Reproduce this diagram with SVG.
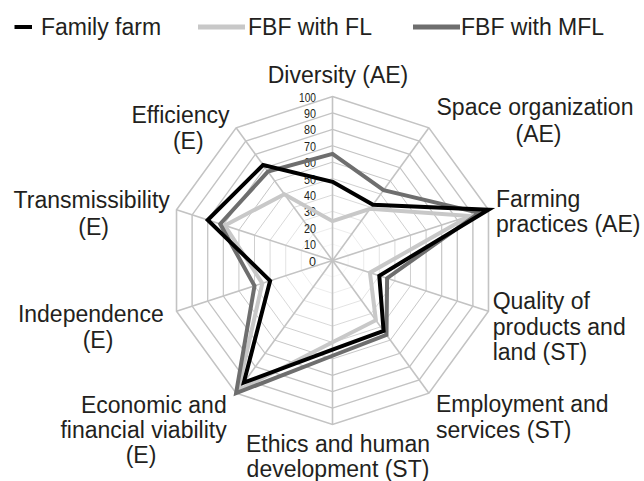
<svg xmlns="http://www.w3.org/2000/svg" xmlns:xlink="http://www.w3.org/1999/xlink" width="644" height="481" viewBox="0 0 644 481">
<style>
  text { font-family: "Liberation Sans", Arial, sans-serif; fill: #231f20; }
  .lab { font-size: 23px; }
  .tick { font-size: 13px; text-anchor: end; }
  .ring { fill: none; stroke: #c3c3c3; stroke-width: 1.6; vector-effect: non-scaling-stroke; }
  .spoke { stroke: #c3c3c3; stroke-width: 1.6; }
  .ser { fill: none; stroke-width: 4; stroke-linejoin: miter; }
  .fam { stroke: #000000; }
  .fl { stroke: #c8c8c8; }
  .mfl { stroke: #6e6e6e; }
</style>
<defs>
  <polygon id="dec" points="0,-164 96.4,-132.68 155.98,-50.68 155.98,50.68 96.4,132.68 0,164 -96.4,132.68 -155.98,50.68 -155.98,-50.68 -96.4,-132.68"/>
</defs>

<g id="legend">
  <line x1="14.5" y1="27" x2="32" y2="27" stroke="#000" stroke-width="4"/>
  <text class="lab" x="41" y="35">Family farm</text>
  <line x1="198" y1="27" x2="245" y2="27" stroke="#c8c8c8" stroke-width="5"/>
  <text class="lab" x="248" y="35">FBF with FL</text>
  <line x1="413" y1="27" x2="460" y2="27" stroke="#6e6e6e" stroke-width="5"/>
  <text class="lab" x="461" y="35">FBF with MFL</text>
</g>

<g id="grid" transform="translate(332.5,260.5)">
  <use xlink:href="#dec" class="ring" transform="scale(0.1)"/>
  <use xlink:href="#dec" class="ring" transform="scale(0.2)"/>
  <use xlink:href="#dec" class="ring" transform="scale(0.3)"/>
  <use xlink:href="#dec" class="ring" transform="scale(0.4)"/>
  <use xlink:href="#dec" class="ring" transform="scale(0.5)"/>
  <use xlink:href="#dec" class="ring" transform="scale(0.6)"/>
  <use xlink:href="#dec" class="ring" transform="scale(0.7)"/>
  <use xlink:href="#dec" class="ring" transform="scale(0.8)"/>
  <use xlink:href="#dec" class="ring" transform="scale(0.9)"/>
  <use xlink:href="#dec" class="ring"/>
  <line class="spoke" x1="0" y1="0" x2="0" y2="-164"/>
  <line class="spoke" x1="0" y1="0" x2="96.4" y2="-132.68"/>
  <line class="spoke" x1="0" y1="0" x2="155.98" y2="-50.68"/>
  <line class="spoke" x1="0" y1="0" x2="155.98" y2="50.68"/>
  <line class="spoke" x1="0" y1="0" x2="96.4" y2="132.68"/>
  <line class="spoke" x1="0" y1="0" x2="0" y2="164"/>
  <line class="spoke" x1="0" y1="0" x2="-96.4" y2="132.68"/>
  <line class="spoke" x1="0" y1="0" x2="-155.98" y2="50.68"/>
  <line class="spoke" x1="0" y1="0" x2="-155.98" y2="-50.68"/>
  <line class="spoke" x1="0" y1="0" x2="-96.4" y2="-132.68"/>
</g>

<g id="ticks">
  <text class="tick" x="316" y="265.5" textLength="7" lengthAdjust="spacingAndGlyphs">0</text>
  <text class="tick" x="316" y="249.1" textLength="12" lengthAdjust="spacingAndGlyphs">10</text>
  <text class="tick" x="316" y="232.7" textLength="12" lengthAdjust="spacingAndGlyphs">20</text>
  <text class="tick" x="316" y="216.3" textLength="12" lengthAdjust="spacingAndGlyphs">30</text>
  <text class="tick" x="316" y="199.9" textLength="12" lengthAdjust="spacingAndGlyphs">40</text>
  <text class="tick" x="316" y="183.5" textLength="12" lengthAdjust="spacingAndGlyphs">50</text>
  <text class="tick" x="316" y="167.1" textLength="12" lengthAdjust="spacingAndGlyphs">60</text>
  <text class="tick" x="316" y="150.7" textLength="12" lengthAdjust="spacingAndGlyphs">70</text>
  <text class="tick" x="316" y="134.3" textLength="12" lengthAdjust="spacingAndGlyphs">80</text>
  <text class="tick" x="316" y="117.9" textLength="12" lengthAdjust="spacingAndGlyphs">90</text>
  <text class="tick" x="316" y="101.5" textLength="17" lengthAdjust="spacingAndGlyphs">100</text>
</g>

<g id="series" transform="translate(332.5,260.5)">
  <polygon id="s-fl" class="ser fl" points="0,-39.36 37.6,-51.74 137.26,-44.59 37.44,12.16 43.38,59.7 0,81.83 -94.47,130.02 -70.19,22.8 -107.63,-34.97 -48.2,-66.34"/>
  <polygon id="s-mfl" class="ser mfl" points="0,-106.6 51.09,-70.32 146.6,-47.63 54.59,17.74 53.98,74.3 0,95.26 -96.4,132.68 -77.99,25.34 -112.31,-36.49 -64.59,-88.89"/>
  <polygon id="s-fam" class="ser fam" points="0,-78.72 40.49,-55.72 155.98,-50.68 46.79,15.2 51.09,70.32 0,89.23 -88.69,122.06 -62.39,20.27 -124.78,-40.54 -69.41,-95.53"/>
</g>

<g id="labels" class="lab">
  <g id="n-diversity"><text class="lab" x="338" y="83" text-anchor="middle">Diversity (AE)</text></g>
  <g id="n-space">
    <text class="lab" x="535" y="115" text-anchor="middle">Space organization</text>
    <text class="lab" x="538.5" y="141.7" text-anchor="middle">(AE)</text>
  </g>
  <g id="n-farming">
    <text class="lab" x="496" y="206.7">Farming</text>
    <text class="lab" x="496" y="231.7">practices (AE)</text>
  </g>
  <g id="n-quality">
    <text class="lab" x="492.7" y="309.3">Quality of</text>
    <text class="lab" x="492.7" y="335">products and</text>
    <text class="lab" x="492.7" y="360">land (ST)</text>
  </g>
  <g id="n-employment">
    <text class="lab" x="436" y="412">Employment and</text>
    <text class="lab" x="436" y="437.5">services (ST)</text>
  </g>
  <g id="n-ethics">
    <text class="lab" x="338" y="452.3" text-anchor="middle">Ethics and human</text>
    <text class="lab" x="338" y="477" text-anchor="middle">development (ST)</text>
  </g>
  <g id="n-economic">
    <text class="lab" x="226.7" y="413.3" text-anchor="end">Economic and</text>
    <text class="lab" x="226.7" y="438.3" text-anchor="end">financial viability</text>
    <text class="lab" x="141" y="463.3" text-anchor="middle">(E)</text>
  </g>
  <g id="n-independence">
    <text class="lab" x="90.8" y="321.7" text-anchor="middle">Independence</text>
    <text class="lab" x="98" y="348.3" text-anchor="middle">(E)</text>
  </g>
  <g id="n-transmissibility">
    <text class="lab" x="91.7" y="208.3" text-anchor="middle">Transmissibility</text>
    <text class="lab" x="93.7" y="235" text-anchor="middle">(E)</text>
  </g>
  <g id="n-efficiency">
    <text class="lab" x="180.5" y="123.3" text-anchor="middle">Efficiency</text>
    <text class="lab" x="188.3" y="149.3" text-anchor="middle">(E)</text>
  </g>
</g>
</svg>
